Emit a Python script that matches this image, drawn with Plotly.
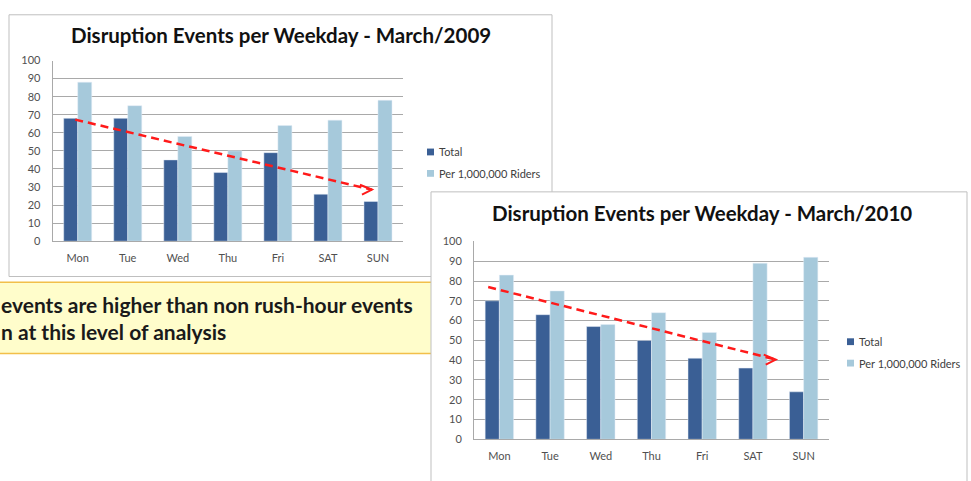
import plotly.graph_objects as go

# ---------------- data ----------------
days = ["Mon", "Tue", "Wed", "Thu", "Fri", "SAT", "SUN"]
total_2009 = [68, 68, 45, 38, 49, 26, 22]
per_million_2009 = [88, 75, 58, 50, 64, 67, 78]
total_2010 = [70, 63, 57, 50, 41, 36, 24]
per_million_2010 = [83, 75, 58, 64, 54, 89, 92]
y_ticks = [0, 10, 20, 30, 40, 50, 60, 70, 80, 90, 100]
# trend arrows (category index, value): start -> end
trend_2009 = [(-0.05, 67.3), (5.88, 28.5)]
trend_2010 = [(-0.22, 77.0), (5.45, 40.3)]
title_2009 = "Disruption Events per Weekday - March/2009"
title_2010 = "Disruption Events per Weekday - March/2010"
series_names = ["Total", "Per 1,000,000 Riders"]
note_lines = ["events are higher than non rush-hour events", "n at this level of analysis"]

# ---------------- style ----------------
W, H = 971, 481
DARK = "#3A5F95"
LIGHT = "#A6C9DB"
GRID = "#A9A9A9"
TXT = "#505050"
FONT = "Lato"

def px(x):
    return x / W

def py(y):
    return 1 - y / H

fig = go.Figure()

fig.add_trace(go.Bar(x=days, y=total_2009, name=series_names[0], marker_color=DARK,
                     xaxis="x", yaxis="y", showlegend=False))
fig.add_trace(go.Bar(x=days, y=per_million_2009, name=series_names[1], marker_color=LIGHT,
                     xaxis="x", yaxis="y", showlegend=False))
fig.add_trace(go.Bar(x=days, y=total_2010, name=series_names[0], marker_color=DARK,
                     xaxis="x2", yaxis="y2", showlegend=False))
fig.add_trace(go.Bar(x=days, y=per_million_2010, name=series_names[1], marker_color=LIGHT,
                     xaxis="x2", yaxis="y2", showlegend=False))

xcommon = dict(showgrid=False, showline=True, linecolor=GRID, linewidth=1,
               tickfont=dict(family=FONT, size=11, color=TXT), ticks="",
               ticklabelstandoff=7, fixedrange=True)
ycommon = dict(range=[0, 100], tickvals=y_ticks, showgrid=True, gridcolor=GRID, gridwidth=1,
               showline=True, linecolor=GRID, linewidth=1, zeroline=False,
               tickfont=dict(family=FONT, size=11, color=TXT), ticks="",
               ticklabelstandoff=9, fixedrange=True)

shapes = []
# chart 1 box
shapes.append(dict(type="rect", xref="paper", yref="paper", layer="below",
                   x0=px(9), x1=px(552), y0=py(277), y1=py(8),
                   line=dict(color="#BFBFBF", width=1), fillcolor="white"))
# yellow note box
shapes.append(dict(type="rect", xref="paper", yref="paper", layer="below",
                   x0=px(-5), x1=px(431), y0=py(356), y1=py(283),
                   line=dict(width=0), fillcolor="#FFFDCB"))
shapes.append(dict(type="line", xref="paper", yref="paper", layer="below",
                   x0=px(-5), x1=px(431), y0=py(283), y1=py(283),
                   line=dict(color="#F2BF4A", width=1.5)))
shapes.append(dict(type="line", xref="paper", yref="paper", layer="below",
                   x0=px(-5), x1=px(431), y0=py(356), y1=py(356),
                   line=dict(color="#F2BF4A", width=1.5)))
# chart 2 box
shapes.append(dict(type="rect", xref="paper", yref="paper", layer="below",
                   x0=px(431), x1=px(967), y0=py(495), y1=py(190),
                   line=dict(color="#BFBFBF", width=1), fillcolor="white"))

# trend arrows
for trend, xr, yr in [(trend_2009, "x", "y"), (trend_2010, "x2", "y2")]:
    (x0, y0), (x1, y1) = trend
    shapes.append(dict(type="line", xref=xr, yref=yr, x0=x0, y0=y0, x1=x1, y1=y1,
                       line=dict(color="#FF1A1A", width=2.5, dash="8px,5px")))
    shapes.append(dict(type="path", xref=xr, yref=yr, xsizemode="pixel", ysizemode="pixel",
                       xanchor=x1, yanchor=y1, path="M -12,5 L 0,0 L -10,-5",
                       line=dict(color="#FF1A1A", width=2)))

annotations = []
for text, cx, cy in [(title_2009, 281, 29), (title_2010, 702, 212)]:
    annotations.append(dict(text="<b>%s</b>" % text, xref="paper", yref="paper",
                            x=px(cx), y=py(cy), xanchor="center", yanchor="middle",
                            showarrow=False, font=dict(family=FONT, size=20.5, color="#111111")))

# manual legends
for lx, ly in [(437, 149), (857, 344)]:
    for i, (name, col) in enumerate(zip(series_names, [DARK, LIGHT])):
        yy = ly + i * 22
        annotations.append(dict(text=name, xref="paper", yref="paper", x=px(lx), y=py(yy),
                                xanchor="left", yanchor="middle", showarrow=False,
                                font=dict(family=FONT, size=11, color="#404040")))
        shapes.append(dict(type="rect", xref="paper", yref="paper",
                           x0=px(lx - 10), x1=px(lx - 3), y0=py(yy + 3.5), y1=py(yy - 3.5),
                           line=dict(width=0), fillcolor=col))

# note text
for i, line in enumerate(note_lines):
    annotations.append(dict(text="<b>%s</b>" % line, xref="paper", yref="paper",
                            x=px(-1), y=py(306 + i * 28), xanchor="left", yanchor="middle",
                            showarrow=False, font=dict(family=FONT, size=21, color="#1A1A1A")))

fig.update_layout(
    width=W, height=H, margin=dict(l=0, r=0, t=0, b=0),
    paper_bgcolor="white", plot_bgcolor="white",
    barmode="group", bargap=0.44, bargroupgap=0,
    xaxis=dict(domain=[px(52.7), px(403)], anchor="y", **xcommon),
    yaxis=dict(domain=[py(240.7), py(55)], anchor="x", **ycommon),
    xaxis2=dict(domain=[px(474), px(829)], anchor="y2", **xcommon),
    yaxis2=dict(domain=[py(444.3), py(241)], anchor="x2", **ycommon),
    shapes=shapes, annotations=annotations, showlegend=False,
)

fig.write_html("out.html", config={"displayModeBar": False},
               post_script="document.body.style.margin='0';document.body.style.padding='0';")
